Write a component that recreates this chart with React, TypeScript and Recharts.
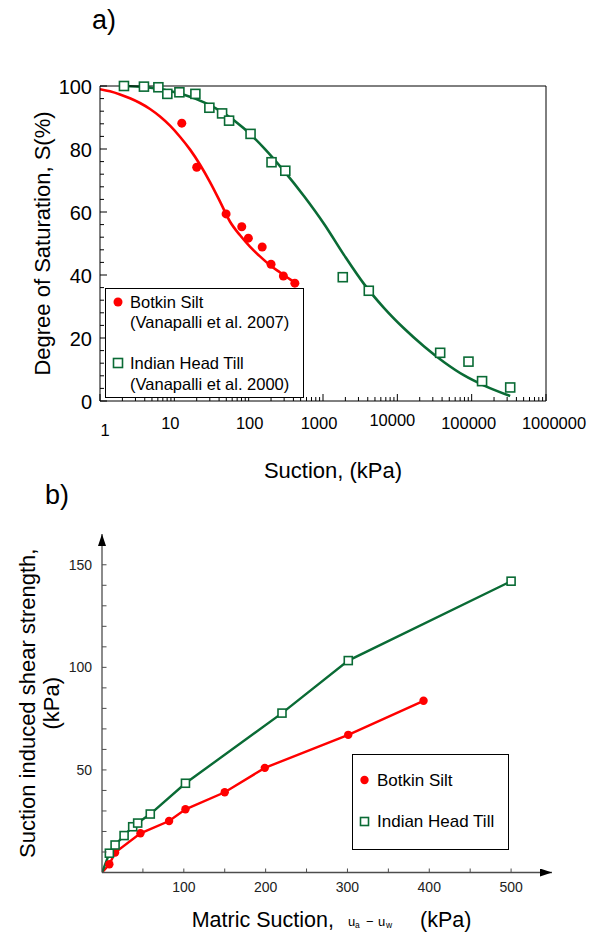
import React from "react";
import { ComposedChart, Line, Scatter, XAxis, YAxis, Legend, Label } from "recharts";

const FONT = '"Liberation Sans", Arial, Helvetica, sans-serif';
const RED = "#ff0000";
const GREEN = "#0a6b35";

// a) degree of saturation vs suction (log axis)
const botkinSuctionA = [12.6, 20, 49.7, 80.7, 99, 152, 200, 293, 418];
const botkinSaturationA = [88.2, 74.2, 59.4, 55.3, 51.7, 48.9, 43.4, 39.7, 37.4];
const botkinFitSuctionA = [1, 1.36, 1.86, 2.53, 3.45, 4.71, 6.42, 8.75, 11.9, 16.3, 22.2, 30.2, 41.2, 56.2, 76.6, 104, 142, 194, 265, 361, 462];
const botkinFitSaturationA = [99, 98.3, 97.3, 96.1, 94.6, 92.7, 90.3, 87.4, 83.9, 79.8, 75, 69.5, 63.3, 56.9, 52.6, 49, 45.9, 43.1, 40.8, 38.6, 37];

const tillSuctionA = [2.1, 3.9, 6.1, 8.05, 11.7, 19.2, 29.6, 43.9, 54.5, 106, 203, 311, 1845, 4130, 37700, 90600, 138000, 330000];
const tillSaturationA = [100, 99.8, 99.6, 97.5, 98, 97.5, 93.1, 91.3, 89, 84.8, 75.8, 73.1, 39.3, 35, 15.3, 12.5, 6.3, 4.3];
const tillFitSuctionA = [2.1, 3.91, 7.27, 13.5, 25.1, 46.7, 86.7, 161, 300, 557, 1035, 1923, 3574, 6643, 12340, 22950, 42640, 79250, 147300, 329600];
const tillFitSaturationA = [100, 99.7, 98.8, 97.2, 94.8, 91.3, 86.5, 80.3, 73, 65, 56.2, 46.3, 37.1, 29.5, 23, 17.3, 12.3, 8.1, 4.9, 1.6];

const suctionDecadesA = [1, 10, 100, 1000, 10000, 100000, 1000000];
const minorStepsA = [2, 3, 4, 5, 6, 7, 8, 9];
const saturationTicksA = [0, 4, 8, 12, 16, 20, 24, 28, 32, 36, 40, 44, 48, 52, 56, 60, 64, 68, 72, 76, 80, 84, 88, 92, 96, 100];

// b) suction induced shear strength vs matric suction
const botkinSuctionB = [9, 16, 47, 82, 102, 150, 199, 301, 393];
const botkinStrengthB = [4, 9.7, 19.1, 25.1, 30.8, 39.1, 51, 67.1, 83.7];
const tillSuctionB = [9, 16, 27, 37.5, 43.6, 59, 102, 220, 301, 500];
const tillStrengthB = [9.4, 13.4, 18, 22.3, 24.1, 28.5, 43.5, 77.7, 103.3, 142];
const suctionTicksB = [50, 100, 150, 200, 250, 300, 350, 400, 450, 500];
const strengthTicksB = [10, 20, 30, 40, 50, 60, 70, 80, 90, 100, 110, 120, 130, 140, 150];

const pairs = (xs: number[], ys: number[]) => xs.map((x, i) => ({ x, y: ys[i] }));

const suctionTicksA = suctionDecadesA.flatMap((d, i) =>
  i === suctionDecadesA.length - 1 ? [d] : [d, ...minorStepsA.map((m) => m * d)]
);

// small label nudges to follow the original's uneven tick labels
const labelNudgeA: Record<number, [number, number]> = {
  1: [5, 7], 10: [-4, 0], 100: [1, 0], 1000: [-4, 0], 10000: [-5, -3], 100000: [-3, 0], 1000000: [8, 0],
};

const LogTickA = (props: any) => {
  const { x, y, payload } = props;
  const v = payload.value;
  const major = suctionDecadesA.includes(v);
  const [dx, dy] = labelNudgeA[v] ?? [0, 0];
  return (
    <g>
      <line x1={x} x2={x} y1={y} y2={y - (major ? 7 : 4)} stroke="#000" />
      {major && (
        <text x={x + dx} y={y + 22 + dy} textAnchor="middle" dominantBaseline="central" fontSize={16.5} fill="#000" fontFamily={FONT}>
          {String(v)}
        </text>
      )}
    </g>
  );
};

const SatTickA = (props: any) => {
  const { x, y, payload } = props;
  const major = payload.value % 20 === 0;
  return (
    <g>
      <line x1={x} x2={x + (major ? 7 : 4)} y1={y} y2={y} stroke="#000" />
      {major && (
        <text x={x - 8} y={y + 1} textAnchor="end" dominantBaseline="central" fontSize={20} fill="#000" fontFamily={FONT}>
          {payload.value}
        </text>
      )}
    </g>
  );
};

const SuctionTickB = (props: any) => {
  const { x, y, payload } = props;
  return (
    <g>
      <line x1={x} x2={x} y1={y} y2={y - 4} stroke="#4d4d4d" />
      {payload.value % 100 === 0 && (
        <text x={x} y={y + 14.5} textAnchor="middle" dominantBaseline="central" fontSize={14} fill="#222" fontFamily={FONT}>
          {payload.value}
        </text>
      )}
    </g>
  );
};

const StrengthTickB = (props: any) => {
  const { x, y, payload } = props;
  return (
    <g>
      <line x1={x} x2={x + 4.5} y1={y} y2={y} stroke="#4d4d4d" />
      {payload.value % 50 === 0 && (
        <text x={x - 10} y={y} textAnchor="end" dominantBaseline="central" fontSize={14} fill="#222" fontFamily={FONT}>
          {payload.value}
        </text>
      )}
    </g>
  );
};

const redDot = (r: number) => (p: any) => <circle cx={p.cx} cy={p.cy} r={r} fill={RED} />;
const greenSquare = (s: number) => (p: any) => (
  <rect x={p.cx - s / 2} y={p.cy - s / 2} width={s} height={s} fill="#fff" stroke={GREEN} strokeWidth={1.6} />
);

const legendA = () => (
  <svg width={199} height={110} style={{ display: "block" }} fontFamily={FONT} fontSize={16.5}>
    <rect x={0.5} y={0.5} width={198} height={109} fill="#fff" stroke="#000" />
    <circle cx={13} cy={14} r={4.5} fill={RED} />
    <text x={25} y={14} dominantBaseline="central">Botkin Silt</text>
    <text x={25} y={34} dominantBaseline="central">(Vanapalli et al. 2007)</text>
    <rect x={8.5} y={70.5} width={9} height={9} fill="#fff" stroke={GREEN} strokeWidth={1.6} />
    <text x={25} y={75} dominantBaseline="central">Indian Head Till</text>
    <text x={25} y={96} dominantBaseline="central">(Vanapalli et al. 2000)</text>
  </svg>
);

const legendB = () => (
  <svg width={158} height={96} style={{ display: "block" }} fontFamily={FONT} fontSize={17}>
    <rect x={0.5} y={0.5} width={156} height={95} fill="#fff" stroke="#000" />
    <circle cx={12.5} cy={26} r={4.2} fill={RED} />
    <text x={25} y={26} dominantBaseline="central">Botkin Silt</text>
    <rect x={8.5} y={63.5} width={8} height={8} fill="#fff" stroke={GREEN} strokeWidth={1.6} />
    <text x={25} y={67.5} dominantBaseline="central">Indian Head Till</text>
  </svg>
);

function ChartA() {
  return (
    <ComposedChart width={589} height={500} margin={{ top: 85, right: 42, bottom: 59, left: 40 }}>
      <XAxis
        dataKey="x"
        type="number"
        scale="log"
        domain={[1, 1000000]}
        ticks={suctionTicksA}
        interval={0}
        allowDataOverflow
        height={40}
        tickLine={false}
        tickSize={0}
        tickMargin={0}
        axisLine={{ stroke: "#000" }}
        tick={<LogTickA />}
      >
        <Label
          content={(p: any) => (
            <text x={p.viewBox.x + p.viewBox.width / 2 + 10} y={p.viewBox.y + 69} textAnchor="middle" dominantBaseline="central" fontSize={22} fontFamily={FONT} fill="#000">
              Suction, (kPa)
            </text>
          )}
        />
      </XAxis>
      <XAxis xAxisId="top" orientation="top" type="number" scale="log" domain={[1, 1000000]} height={1} tick={false} tickLine={false} axisLine={{ stroke: "#000" }} />
      <YAxis
        dataKey="y"
        type="number"
        domain={[0, 100]}
        ticks={saturationTicksA}
        interval={0}
        width={60}
        tickLine={false}
        tickSize={0}
        tickMargin={0}
        axisLine={{ stroke: "#000" }}
        tick={<SatTickA />}
      >
        <Label
          content={(p: any) => {
            const cx = p.viewBox.x + 2;
            const cy = p.viewBox.y + p.viewBox.height / 2;
            return (
              <text x={cx} y={cy} transform={`rotate(-90 ${cx} ${cy})`} textAnchor="middle" dominantBaseline="central" fontSize={22} fontFamily={FONT} fill="#000">
                Degree of Saturation, S(%)
              </text>
            );
          }}
        />
      </YAxis>
      <YAxis yAxisId="right" orientation="right" type="number" domain={[0, 100]} width={1} tick={false} tickLine={false} axisLine={{ stroke: "#000" }} />
      <Line data={pairs(botkinFitSuctionA, botkinFitSaturationA)} dataKey="y" type="monotone" stroke={RED} strokeWidth={2.6} dot={false} isAnimationActive={false} />
      <Line data={pairs(tillFitSuctionA, tillFitSaturationA)} dataKey="y" type="monotone" stroke={GREEN} strokeWidth={2.6} dot={false} isAnimationActive={false} />
      <Scatter data={pairs(botkinSuctionA, botkinSaturationA)} dataKey="y" shape={redDot(4.5)} isAnimationActive={false} />
      <Scatter data={pairs(tillSuctionA, tillSaturationA)} dataKey="y" shape={greenSquare(9)} isAnimationActive={false} />
      <Legend
        layout="vertical"
        align="center"
        verticalAlign="middle"
        content={legendA}
        wrapperStyle={{ left: 105, top: 288, width: 199, height: 110 }}
      />
    </ComposedChart>
  );
}

function ChartB() {
  const origin = { x: 0, y: 0 };
  return (
    <ComposedChart width={589} height={456} margin={{ top: 54, right: 37, bottom: 23.5, left: 40 }}>
      <XAxis
        dataKey="x"
        type="number"
        domain={[0, 550]}
        ticks={suctionTicksB}
        interval={0}
        allowDataOverflow
        height={40}
        tickLine={false}
        tickSize={0}
        tickMargin={0}
        axisLine={{ stroke: "#4d4d4d", strokeWidth: 1.3, markerEnd: "url(#axisArrow)" }}
        tick={<SuctionTickB />}
      >
        <Label
          content={(p: any) => {
            const x0 = p.viewBox.x;
            const y0 = p.viewBox.y + 47.5;
            return (
              <g fontFamily={FONT} fill="#000">
                <text x={x0 + 89.7} y={y0} dominantBaseline="central" fontSize={21.5}>Matric Suction,</text>
                <text x={x0 + 246} y={y0 + 1} dominantBaseline="central" fontSize={13}>u</text>
                <text x={x0 + 253} y={y0 + 5} dominantBaseline="central" fontSize={8.5}>a</text>
                <text x={x0 + 264} y={y0 + 1} dominantBaseline="central" fontSize={13}>−</text>
                <text x={x0 + 276} y={y0 + 1} dominantBaseline="central" fontSize={13}>u</text>
                <text x={x0 + 284} y={y0 + 5} dominantBaseline="central" fontSize={8.5}>w</text>
                <text x={x0 + 318} y={y0} dominantBaseline="central" fontSize={21.5}>(kPa)</text>
              </g>
            );
          }}
        />
      </XAxis>
      <YAxis
        dataKey="y"
        type="number"
        domain={[0, 165]}
        ticks={strengthTicksB}
        interval={0}
        allowDataOverflow
        width={62}
        tickLine={false}
        tickSize={0}
        tickMargin={0}
        axisLine={{ stroke: "#4d4d4d", strokeWidth: 1.3, markerStart: "url(#axisArrow)" }}
        tick={<StrengthTickB />}
      >
        <Label
          content={(p: any) => {
            const cy = p.viewBox.y + p.viewBox.height / 2;
            const x1 = p.viewBox.x - 13;
            const x2 = p.viewBox.x + 11;
            return (
              <g fontFamily={FONT} fill="#000" fontSize={22}>
                <text x={x1} y={cy} transform={`rotate(-90 ${x1} ${cy})`} textAnchor="middle" dominantBaseline="central">
                  Suction induced shear strength,
                </text>
                <text x={x2} y={cy} transform={`rotate(-90 ${x2} ${cy})`} textAnchor="middle" dominantBaseline="central">
                  (kPa)
                </text>
              </g>
            );
          }}
        />
      </YAxis>
      <Line data={[origin, ...pairs(botkinSuctionB, botkinStrengthB)]} dataKey="y" type="linear" stroke={RED} strokeWidth={2.4} dot={false} isAnimationActive={false} />
      <Line data={[origin, ...pairs(tillSuctionB, tillStrengthB)]} dataKey="y" type="linear" stroke={GREEN} strokeWidth={2.4} dot={false} isAnimationActive={false} />
      <Scatter data={pairs(botkinSuctionB, botkinStrengthB)} dataKey="y" shape={redDot(4.2)} isAnimationActive={false} />
      <Scatter data={pairs(tillSuctionB, tillStrengthB)} dataKey="y" shape={greenSquare(8)} isAnimationActive={false} />
      <Legend
        layout="vertical"
        align="center"
        verticalAlign="middle"
        content={legendB}
        wrapperStyle={{ left: 352, top: 274, width: 158, height: 96 }}
      />
    </ComposedChart>
  );
}

export default function App() {
  return (
    <div style={{ position: "absolute", left: 0, top: 0, width: 589, height: 936, background: "#fff", fontFamily: FONT }}>
      <svg width={0} height={0} style={{ position: "absolute" }}>
        <defs>
          <marker id="axisArrow" viewBox="0 0 12 8" refX={12} refY={4} markerWidth={12} markerHeight={8} markerUnits="userSpaceOnUse" orient="auto-start-reverse">
            <path d="M0,0 L12,4 L0,8 Z" fill="#000" />
          </marker>
        </defs>
      </svg>
      <div style={{ position: "absolute", left: 0, top: 0 }}>
        <ChartA />
      </div>
      <div style={{ position: "absolute", left: 0, top: 480 }}>
        <ChartB />
      </div>
      <div style={{ position: "absolute", left: 92, top: 4, fontSize: 27, lineHeight: "32px" }}>a)</div>
      <div style={{ position: "absolute", left: 45, top: 479, fontSize: 27, lineHeight: "32px" }}>b)</div>
    </div>
  );
}
